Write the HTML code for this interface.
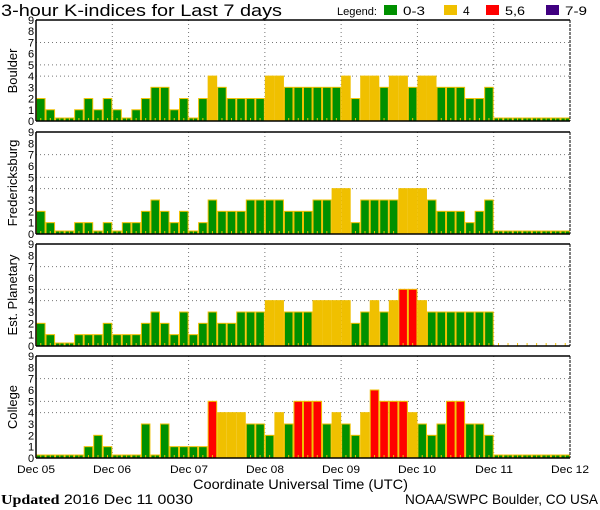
<!DOCTYPE html>
<html><head><meta charset="utf-8"><style>
html,body{margin:0;padding:0;background:#fff;}
svg{display:block;}
text{font-family:"Liberation Sans",sans-serif;fill:#000;}
</style></head><body>
<svg id="s" width="600" height="510" viewBox="0 0 600 510" xmlns="http://www.w3.org/2000/svg">
<rect width="600" height="510" fill="#fff"/>
<text x="1" y="16" font-size="17" textLength="281" lengthAdjust="spacingAndGlyphs">3-hour K-indices for Last 7 days</text>
<text x="337" y="15" font-size="11" textLength="40" lengthAdjust="spacingAndGlyphs">Legend:</text>
<rect x="384" y="5" width="13" height="10" fill="#009000"/><text x="403" y="15" font-size="12" textLength="22" lengthAdjust="spacingAndGlyphs">0-3</text>
<rect x="444" y="5" width="13" height="10" fill="#f0c000"/><text x="463" y="15" font-size="12">4</text>
<rect x="486" y="5" width="13" height="10" fill="#ff0000"/><text x="505" y="15" font-size="12" textLength="20" lengthAdjust="spacingAndGlyphs">5,6</text>
<rect x="546" y="5" width="13" height="10" fill="#400080"/><text x="565" y="15" font-size="12" textLength="22" lengthAdjust="spacingAndGlyphs">7-9</text>
<g font-size="13">
<text transform="translate(17,71) rotate(-90)" text-anchor="middle">Boulder</text>
<text transform="translate(17,183) rotate(-90)" text-anchor="middle">Fredericksburg</text>
<text transform="translate(17,295) rotate(-90)" text-anchor="middle">Est. Planetary</text>
<text transform="translate(17,407) rotate(-90)" text-anchor="middle">College</text>
</g>
<g id="plots"></g>
<g font-size="11">
<text x="17" y="473" textLength="38" lengthAdjust="spacingAndGlyphs">Dec 05</text><text x="93" y="473" textLength="38" lengthAdjust="spacingAndGlyphs">Dec 06</text><text x="170" y="473" textLength="38" lengthAdjust="spacingAndGlyphs">Dec 07</text><text x="246" y="473" textLength="38" lengthAdjust="spacingAndGlyphs">Dec 08</text><text x="322" y="473" textLength="38" lengthAdjust="spacingAndGlyphs">Dec 09</text><text x="398" y="473" textLength="38" lengthAdjust="spacingAndGlyphs">Dec 10</text><text x="475" y="473" textLength="38" lengthAdjust="spacingAndGlyphs">Dec 11</text><text x="551" y="473" textLength="38" lengthAdjust="spacingAndGlyphs">Dec 12</text>
</g>
<text x="193" y="489" font-size="14" textLength="215" lengthAdjust="spacingAndGlyphs">Coordinate Universal Time (UTC)</text>
<text x="1" y="504" font-size="14" textLength="192" lengthAdjust="spacingAndGlyphs"><tspan font-family="Liberation Serif" font-weight="bold">Updated</tspan> 2016 Dec 11 0030</text>
<text x="405" y="504" font-size="14" textLength="193" lengthAdjust="spacingAndGlyphs">NOAA/SWPC Boulder, CO USA</text>
</svg>
<script>
var data=[
[2,1,0,0,1,2,1,2, 1,0,1,2,3,3,1,2, 0,2,4,3,2,2,2,2, 4,4,3,3,3,3,3,3, 4,2,4,4,3,4,4,3, 4,4,3,3,3,2,2,3, 0,0,0,0,0,0,0,0],
[2,1,0,0,1,1,0,1, 0,1,1,2,3,2,1,2, 0,1,3,2,2,2,3,3, 3,3,2,2,2,3,3,4, 4,1,3,3,3,3,4,4, 4,3,2,2,2,1,2,3, 0,0,0,0,0,0,0,0],
[2,1,0,0,1,1,1,2, 1,1,1,2,3,2,1,3, 1,2,3,2,2,3,3,3, 4,4,3,3,3,4,4,4, 4,2,3,4,3,4,5,5, 4,3,3,3,3,3,3,3, -1,-1,-1,-1,-1,-1,-1,-1],
[0,0,0,0,0,1,2,1, 0,0,0,3,0,3,1,1, 1,1,5,4,4,4,3,3, 2,4,3,5,5,5,3,4, 3,2,4,6,5,5,5,4, 3,2,3,5,5,3,3,2, 0,0,0,0,0,0,0,0]];
var tops=[20,132,244,356],bots=[121,234,346,458];
var L=36,R=570,bw=(R-L)/56,NS="http://www.w3.org/2000/svg",g=document.getElementById("plots");
function el(n,a){var e=document.createElementNS(NS,n);for(var k in a)e.setAttribute(k,a[k]);g.appendChild(e);return e;}
for(var p=0;p<4;p++){
 var t=tops[p],b=bots[p],u=(b-t)/9;
 [4,5,7].forEach(function(k){el("line",{x1:L,x2:R,y1:b-k*u,y2:b-k*u,stroke:"#777","stroke-dasharray":"1,3"});});
 for(var d=1;d<7;d++){var x=L+d*8*bw;el("line",{x1:x,x2:x,y1:t,y2:b,stroke:"#777","stroke-dasharray":"1,3"});}
 for(var i=0;i<56;i++){
  var v=data[p][i],x=L+i*bw;
  if(v>=0){
   var h=v==0?3:v*u,c=v<=3?"#009000":v==4?"#f0c000":v<=6?"#ff0000":"#400080";
   el("rect",{x:x+0.5,y:b-h,width:bw-1,height:h,fill:c,stroke:"#f0c000","stroke-width":1});
  }
  el("rect",{x:x+bw/2-0.5,y:b-3,width:1,height:3,fill:"#f0c000"});
 }
 el("line",{x1:L,x2:R,y1:t,y2:t,stroke:"#000","stroke-width":1.5});
 el("line",{x1:L,x2:R,y1:b,y2:b,stroke:"#000","stroke-width":1.5});
 el("line",{x1:L,x2:L,y1:t,y2:b,stroke:"#000","stroke-width":1.5});
 el("line",{x1:R,x2:R,y1:t,y2:b,stroke:"#000","stroke-width":1,"stroke-dasharray":"3,1"});
 for(var k=0;k<=9;k++){var tx=el("text",{x:31,y:b-k*u+4,"font-size":11,"text-anchor":"middle"});tx.textContent=k;}
}
</script>
</body></html>
